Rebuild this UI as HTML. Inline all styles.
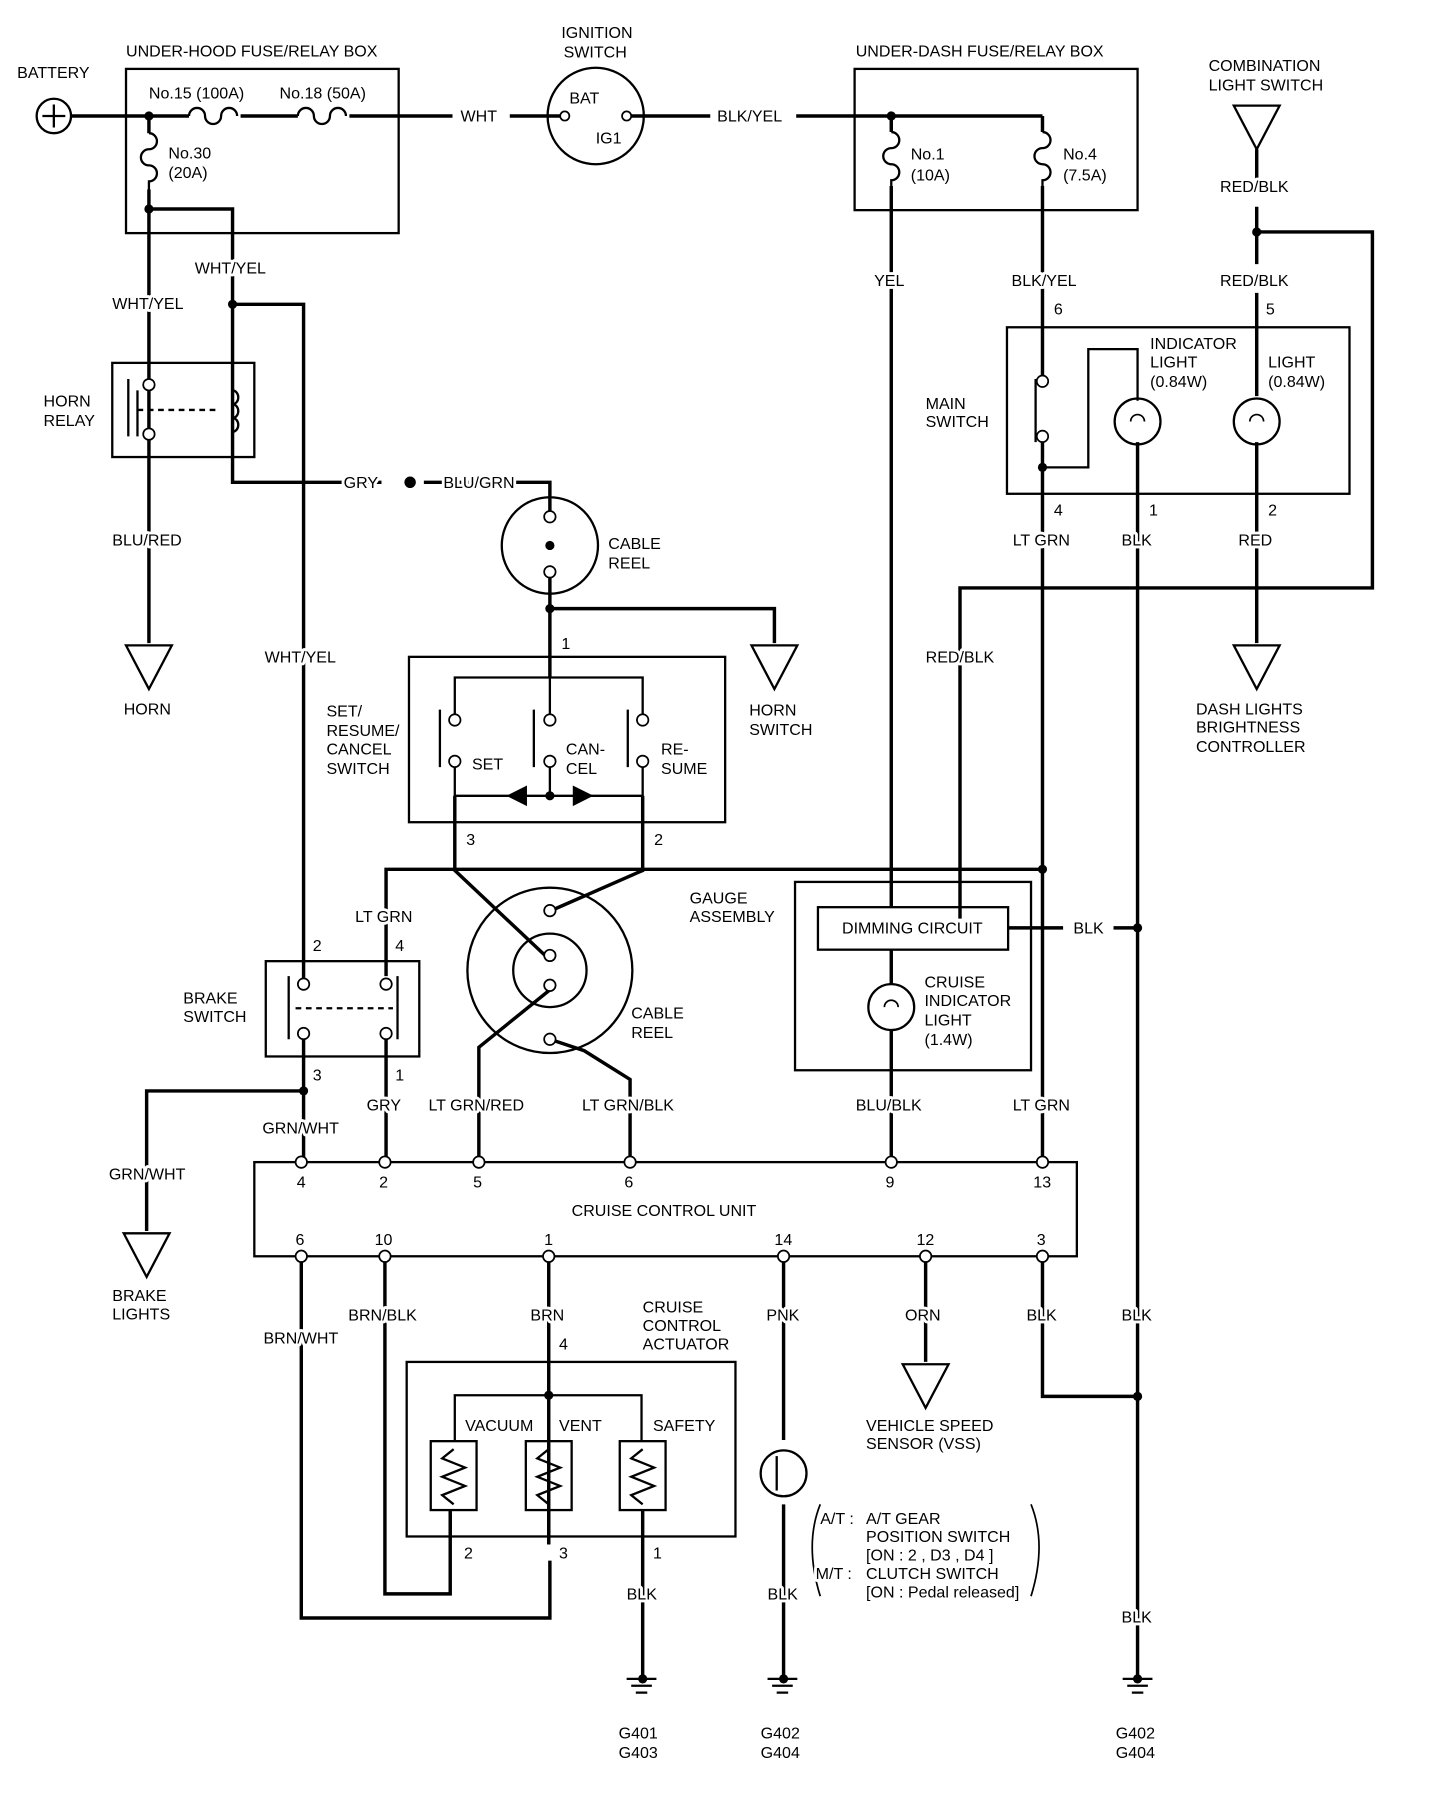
<!DOCTYPE html>
<html><head><meta charset="utf-8"><style>
html,body{margin:0;padding:0;background:#fff;}
svg{display:block;}
text{font-family:"Liberation Sans",sans-serif;font-size:14px;fill:#000;paint-order:stroke;stroke:#fff;stroke-width:5px;stroke-linejoin:round;}
</style></head><body>
<svg width="1440" height="1796" viewBox="0 0 1257 1564" preserveAspectRatio="none" xmlns="http://www.w3.org/2000/svg">
<g fill="none" stroke="#000" stroke-width="3">
<circle cx="47" cy="101" r="15" stroke-width="2"/>
<path d="M37 101h20M47 91v20" stroke-width="2"/>
<rect x="110" y="60" width="238" height="143" stroke-width="2"/>
<path d="M62 101h103M210 101h50M305 101h90M445 101h48"/>
<path d="M165 101a7 7 0 0 1 14 0a7 7 0 0 0 14 0a7 7 0 0 1 14 0" stroke-width="2"/>
<path d="M260 101a7 7 0 0 1 14 0a7 7 0 0 0 14 0a7 7 0 0 1 14 0" stroke-width="2"/>
<path d="M130 101v15M130 165v395"/>
<path d="M130 116a7 7 0 0 1 0 14a7 7 0 0 0 0 14a7 7 0 0 1 0 14v7" stroke-width="2"/>
<path d="M130 182h73v238h130M370 420h110v25"/>
<path d="M203 265h62v592M265 900v112"/>
<rect x="98" y="316" width="124" height="82" stroke-width="2"/>
<path d="M112 330v50M120 340v40" stroke-width="2"/>
<path d="M120 357h70" stroke-width="2" stroke-dasharray="5 4"/>
<path d="M203 340a5 6 0 0 1 0 12a5 6 0 0 1 0 12a5 6 0 0 1 0 12" stroke-width="2"/>
<path d="M110 562h40l-20 38z" stroke-width="2"/>
<circle cx="520" cy="101" r="42" stroke-width="2"/>
<path d="M547 101h73M695 101h215"/>
<rect x="746" y="60" width="247" height="123" stroke-width="2"/>
<path d="M778 101v14M778 162v628M910 101v14M910 162v123"/>
<path d="M778 115a7 7 0 0 1 0 14a7 7 0 0 0 0 14a7 7 0 0 1 0 14v5" stroke-width="2"/>
<path d="M910 115a7 7 0 0 1 0 14a7 7 0 0 0 0 14a7 7 0 0 1 0 14v5" stroke-width="2"/>
<path d="M1077 92h40l-20 38z" stroke-width="2"/>
<path d="M1097 130v30M1097 180v50M1097 255v90M1097 385v175"/>
<path d="M1097 202h101v310h-360v288"/>
<path d="M1077 562h40l-20 38z" stroke-width="2"/>
<rect x="879" y="285" width="299" height="145" stroke-width="2"/>
<path d="M910 285v45M910 385v45M910 430v327M910 757v255"/>
<path d="M904 330v55" stroke-width="2"/>
<path d="M910 407h40v-103h43v45" stroke-width="2"/>
<circle cx="993" cy="367" r="20" stroke-width="2"/>
<circle cx="1097" cy="367" r="20" stroke-width="2"/>
<path d="M987 367a6 6 0 0 1 12 0M1091 367a6 6 0 0 1 12 0" stroke-width="1.5"/>
<path d="M993 385v1075"/>
<circle cx="480" cy="475" r="42" stroke-width="2"/>
<path d="M480 500v30h196v30M480 530v60"/>
<path d="M656 562h40l-20 38z" stroke-width="2"/>
<rect x="357" y="572" width="276" height="144" stroke-width="2"/>
<path d="M397 630v-40h164v40M480 590v40" stroke-width="2"/>
<path d="M384 618v50M466 618v50M548 618v50" stroke-width="2"/>
<path d="M397 665v28h164v-28M480 665v28" stroke-width="2"/>
<path d="M397 693v65l82 77M561 693v65l-80 35"/>
<path d="M910 757H337v93"/>
<rect x="694" y="768" width="206" height="164" stroke-width="2"/>
<rect x="714" y="790" width="166" height="37" stroke-width="2"/>
<path d="M880 808h48M972 808h21"/>
<circle cx="778" cy="877" r="20" stroke-width="2"/>
<path d="M772 877a6 6 0 0 1 12 0" stroke-width="1.5"/>
<path d="M778 827v30M778 897v115"/>
<circle cx="480" cy="845" r="72" stroke-width="2"/>
<circle cx="480" cy="845" r="32" stroke-width="2"/>
<path d="M480 862l-62 50v100M480 905l30 10l40 25v72"/>
<rect x="232" y="837" width="134" height="83" stroke-width="2"/>
<path d="M252 850v55M347 850v55" stroke-width="2"/>
<path d="M258 878h85" stroke-width="2" stroke-dasharray="5 4"/>
<path d="M337 900v112"/>
<path d="M265 950H128v122"/>
<path d="M108 1074h40l-20 38z" stroke-width="2"/>
<rect x="222" y="1012" width="718" height="82" stroke-width="2"/>
<path d="M263 1094v315h217v-50M336 1094v294h57v-70M479 1094v250M684 1094v160M684 1310v150M808 1094v92M910 1094v122h83"/>
<path d="M788 1188h40l-20 38z" stroke-width="2"/>
<rect x="355" y="1186" width="287" height="152" stroke-width="2"/>
<path d="M397 1255v-40h163v40M479 1215v40" stroke-width="2"/>
<rect x="376" y="1255" width="40" height="60" stroke-width="2"/>
<rect x="459" y="1255" width="40" height="60" stroke-width="2"/>
<rect x="541" y="1255" width="40" height="60" stroke-width="2"/>
<path d="M396 1262l-10 8l20 8l-20 8l20 8l-20 8l10 8M479 1262l-10 8l20 8l-20 8l20 8l-20 8l10 8M561 1262l-10 8l20 8l-20 8l20 8l-20 8l10 8" stroke-width="2"/>
<path d="M393 1315v25M479 1315v30M561 1315v145"/>
<circle cx="684" cy="1283" r="20" stroke-width="2"/>
<path d="M678 1268v30" stroke-width="2"/>
<path d="M716 1310q-14 35 0 80M900 1310q14 35 0 80" stroke-width="1.5"/>
<path d="M547 1462h26M551 1468h18M555 1474h10M670 1462h26M674 1468h18M678 1474h10M980 1462h26M984 1468h18M988 1474h10" stroke-width="2"/>
</g>
<g fill="#000">
<circle cx="130" cy="101" r="4"/><circle cx="130" cy="182" r="4"/><circle cx="203" cy="265" r="4"/>
<circle cx="358" cy="420" r="5"/><circle cx="778" cy="101" r="4"/><circle cx="1097" cy="202" r="4"/>
<circle cx="480" cy="475" r="4"/><circle cx="480" cy="530" r="4"/><circle cx="480" cy="693" r="4"/>
<circle cx="910" cy="757" r="4"/><circle cx="910" cy="407" r="4"/><circle cx="993" cy="808" r="4"/>
<circle cx="265" cy="950" r="4"/><circle cx="479" cy="1215" r="4"/><circle cx="993" cy="1216" r="4"/>
<circle cx="561" cy="1462" r="4"/><circle cx="684" cy="1462" r="4"/><circle cx="993" cy="1462" r="4"/>
<path d="M442 693l18-9v18zM518 693l-18-9v18z"/>
</g>
<g fill="#fff" stroke="#000" stroke-width="1.5">
<circle cx="493" cy="101" r="4"/><circle cx="547" cy="101" r="4"/>
<circle cx="480" cy="450" r="5"/><circle cx="480" cy="498" r="5"/>
<circle cx="130" cy="335" r="5"/><circle cx="130" cy="378" r="5"/>
<circle cx="910" cy="332" r="5"/><circle cx="910" cy="380" r="5"/>
<circle cx="397" cy="627" r="5"/><circle cx="397" cy="663" r="5"/>
<circle cx="480" cy="627" r="5"/><circle cx="480" cy="663" r="5"/>
<circle cx="561" cy="627" r="5"/><circle cx="561" cy="663" r="5"/>
<circle cx="480" cy="793" r="5"/><circle cx="480" cy="832" r="5"/><circle cx="480" cy="858" r="5"/><circle cx="480" cy="905" r="5"/>
<circle cx="265" cy="857" r="5"/><circle cx="265" cy="900" r="5"/><circle cx="337" cy="857" r="5"/><circle cx="337" cy="900" r="5"/>
<circle cx="263" cy="1012" r="5"/><circle cx="336" cy="1012" r="5"/><circle cx="418" cy="1012" r="5"/><circle cx="550" cy="1012" r="5"/><circle cx="778" cy="1012" r="5"/><circle cx="910" cy="1012" r="5"/>
<circle cx="263" cy="1094" r="5"/><circle cx="336" cy="1094" r="5"/><circle cx="479" cy="1094" r="5"/><circle cx="684" cy="1094" r="5"/><circle cx="808" cy="1094" r="5"/><circle cx="910" cy="1094" r="5"/>
</g>
<g>
<text x="15" y="68">BATTERY</text>
<text x="110" y="49">UNDER-HOOD FUSE/RELAY BOX</text>
<text x="130" y="86">No.15 (100A)</text><text x="244" y="86">No.18 (50A)</text>
<text x="147" y="138">No.30</text><text x="147" y="155">(20A)</text>
<text x="402" y="106">WHT</text>
<text x="490" y="33">IGNITION</text><text x="492" y="50">SWITCH</text>
<text x="497" y="90">BAT</text><text x="520" y="125">IG1</text>
<text x="626" y="106">BLK/YEL</text>
<text x="747" y="49">UNDER-DASH FUSE/RELAY BOX</text>
<text x="795" y="139">No.1</text><text x="795" y="157">(10A)</text>
<text x="928" y="139">No.4</text><text x="928" y="157">(7.5A)</text>
<text x="1055" y="62">COMBINATION</text><text x="1055" y="79">LIGHT SWITCH</text>
<text x="1065" y="167">RED/BLK</text>
<text x="170" y="238">WHT/YEL</text><text x="98" y="269">WHT/YEL</text>
<text x="763" y="249">YEL</text><text x="883" y="249">BLK/YEL</text><text x="1065" y="249">RED/BLK</text>
<text x="920" y="274">6</text><text x="1105" y="274">5</text>
<text x="1004" y="304">INDICATOR</text><text x="1004" y="320">LIGHT</text><text x="1004" y="337">(0.84W)</text>
<text x="1107" y="320">LIGHT</text><text x="1107" y="337">(0.84W)</text>
<text x="808" y="356">MAIN</text><text x="808" y="372">SWITCH</text>
<text x="38" y="354">HORN</text><text x="38" y="371">RELAY</text>
<text x="300" y="425">GRY</text><text x="387" y="425">BLU/GRN</text>
<text x="920" y="449">4</text><text x="1003" y="449">1</text><text x="1107" y="449">2</text>
<text x="98" y="475">BLU/RED</text>
<text x="531" y="478">CABLE</text><text x="531" y="495">REEL</text>
<text x="884" y="475">LT GRN</text><text x="979" y="475">BLK</text><text x="1081" y="475">RED</text>
<text x="490" y="565">1</text>
<text x="808" y="577">RED/BLK</text><text x="231" y="577">WHT/YEL</text>
<text x="108" y="622">HORN</text>
<text x="654" y="623">HORN</text><text x="654" y="640">SWITCH</text>
<text x="1044" y="622">DASH LIGHTS</text><text x="1044" y="638">BRIGHTNESS</text><text x="1044" y="655">CONTROLLER</text>
<text x="285" y="624">SET/</text><text x="285" y="641">RESUME/</text><text x="285" y="657">CANCEL</text><text x="285" y="674">SWITCH</text>
<text x="412" y="670">SET</text><text x="494" y="657">CAN-</text><text x="494" y="674">CEL</text><text x="577" y="657">RE-</text><text x="577" y="674">SUME</text>
<text x="407" y="736">3</text><text x="571" y="736">2</text>
<text x="602" y="787">GAUGE</text><text x="602" y="803">ASSEMBLY</text>
<text x="310" y="803">LT GRN</text>
<text x="735" y="813">DIMMING CIRCUIT</text><text x="937" y="813">BLK</text>
<text x="273" y="828">2</text><text x="345" y="828">4</text>
<text x="807" y="860">CRUISE</text><text x="807" y="876">INDICATOR</text><text x="807" y="893">LIGHT</text><text x="807" y="910">(1.4W)</text>
<text x="160" y="874">BRAKE</text><text x="160" y="890">SWITCH</text>
<text x="551" y="887">CABLE</text><text x="551" y="904">REEL</text>
<text x="273" y="941">3</text><text x="345" y="941">1</text>
<text x="320" y="967">GRY</text><text x="374" y="967">LT GRN/RED</text><text x="508" y="967">LT GRN/BLK</text>
<text x="747" y="967">BLU/BLK</text><text x="884" y="967">LT GRN</text>
<text x="229" y="987">GRN/WHT</text>
<text x="259" y="1034">4</text><text x="331" y="1034">2</text><text x="413" y="1034">5</text><text x="545" y="1034">6</text><text x="773" y="1034">9</text><text x="902" y="1034">13</text>
<text x="95" y="1027">GRN/WHT</text>
<text x="499" y="1059">CRUISE CONTROL UNIT</text>
<text x="258" y="1084">6</text><text x="327" y="1084">10</text><text x="475" y="1084">1</text><text x="676" y="1084">14</text><text x="800" y="1084">12</text><text x="905" y="1084">3</text>
<text x="98" y="1133">BRAKE</text><text x="98" y="1149">LIGHTS</text>
<text x="304" y="1150">BRN/BLK</text><text x="463" y="1150">BRN</text><text x="669" y="1150">PNK</text><text x="790" y="1150">ORN</text><text x="896" y="1150">BLK</text><text x="979" y="1150">BLK</text>
<text x="561" y="1143">CRUISE</text><text x="561" y="1159">CONTROL</text><text x="561" y="1175">ACTUATOR</text>
<text x="230" y="1170">BRN/WHT</text><text x="488" y="1175">4</text>
<text x="406" y="1246">VACUUM</text><text x="488" y="1246">VENT</text><text x="570" y="1246">SAFETY</text>
<text x="756" y="1246">VEHICLE SPEED</text><text x="756" y="1262">SENSOR (VSS)</text>
<text x="716" y="1327">A/T :</text><text x="756" y="1327">A/T GEAR</text><text x="756" y="1343">POSITION SWITCH</text>
<text x="756" y="1359">[ON : 2 , D3 , D4 ]</text>
<text x="712" y="1375">M/T :</text><text x="756" y="1375">CLUTCH SWITCH</text><text x="756" y="1391">[ON : Pedal released]</text>
<text x="405" y="1357">2</text><text x="488" y="1357">3</text><text x="570" y="1357">1</text>
<text x="547" y="1393">BLK</text><text x="670" y="1393">BLK</text><text x="979" y="1413">BLK</text>
<text x="540" y="1514">G401</text><text x="540" y="1531">G403</text>
<text x="664" y="1514">G402</text><text x="664" y="1531">G404</text>
<text x="974" y="1514">G402</text><text x="974" y="1531">G404</text>
</g>
</svg>
</body></html>
